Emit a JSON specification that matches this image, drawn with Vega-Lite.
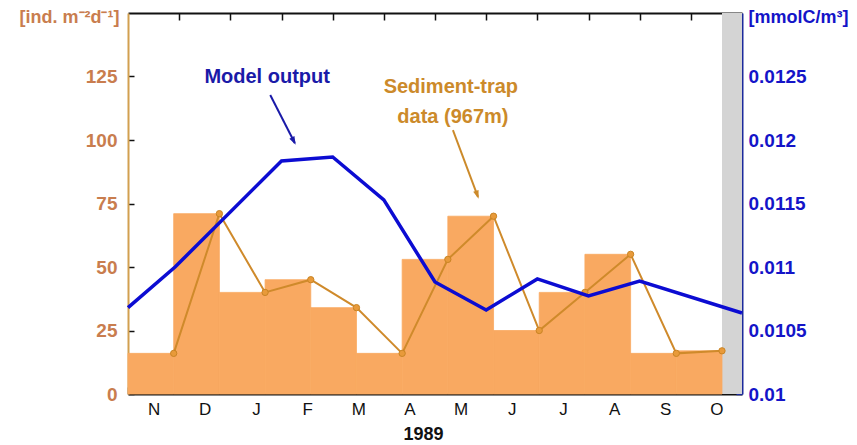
{
  "$schema": "https://vega.github.io/schema/vega-lite/v6.json",
  "width": 614,
  "height": 381,
  "autosize": {"type": "none"},
  "padding": {"left": 128, "top": 13, "right": 115, "bottom": 51},
  "background": "white",
  "config": {
    "view": {"stroke": null},
    "axis": {"grid": false, "zindex": 1, "labelFont": "Liberation Sans", "titleFont": "Liberation Sans"},
    "text": {"font": "Liberation Sans"}
  },
  "datasets": {
    "traps": [
      {"start": 0, "end": 0.893, "flux": 16},
      {"start": 0.893, "end": 1.786, "flux": 71},
      {"start": 1.786, "end": 2.679, "flux": 40},
      {"start": 2.679, "end": 3.572, "flux": 45},
      {"start": 3.572, "end": 4.465, "flux": 34},
      {"start": 4.465, "end": 5.358, "flux": 16},
      {"start": 5.358, "end": 6.251, "flux": 53},
      {"start": 6.251, "end": 7.144, "flux": 70},
      {"start": 7.144, "end": 8.037, "flux": 25},
      {"start": 8.037, "end": 8.93, "flux": 40},
      {"start": 8.93, "end": 9.823, "flux": 55},
      {"start": 9.823, "end": 10.716, "flux": 16},
      {"start": 10.716, "end": 11.609, "flux": 17}
    ],
    "model": [
      {"month": 0, "c": 0.01068},
      {"month": 0.92, "c": 0.0110},
      {"month": 3, "c": 0.011835},
      {"month": 4, "c": 0.011866},
      {"month": 5, "c": 0.011528},
      {"month": 6, "c": 0.010882},
      {"month": 7, "c": 0.010661},
      {"month": 8, "c": 0.010906},
      {"month": 9, "c": 0.010772},
      {"month": 10, "c": 0.01089},
      {"month": 12, "c": 0.010638}
    ],
    "band": [{"from": 11.609, "to": 12}],
    "notes": [
      {"label": "Model output", "m": 2.72, "f": 124.8, "who": "model"},
      {"label": "Sediment-trap", "m": 6.31, "f": 120.9, "who": "trap"},
      {"label": "data (967m)", "m": 6.35, "f": 109.1, "who": "trap"}
    ],
    "arrows": [
      {"who": "model", "m": 2.78, "f": 117.7, "m2": 3.26, "f2": 98.8},
      {"who": "trap", "m": 6.35, "f": 103.9, "m2": 6.84, "f2": 77.6}
    ]
  },
  "layer": [
    {
      "layer": [
        {
          "data": {"name": "band"},
          "mark": {"type": "rect", "color": "#d4d4d4"},
          "encoding": {
            "x": {"field": "from", "type": "quantitative"},
            "x2": {"field": "to"},
            "y": {"datum": 0, "type": "quantitative"},
            "y2": {"datum": 150}
          }
        },
        {
          "data": {"name": "traps"},
          "mark": {"type": "rect", "color": "#f9a961", "stroke": "#f9a961", "strokeWidth": 0.8},
          "encoding": {
            "x": {
              "field": "start", "type": "quantitative",
              "scale": {"domain": [0, 12], "nice": false, "zero": false},
              "axis": {
                "orient": "bottom",
                "values": [0.5, 1.5, 2.5, 3.5, 4.5, 5.5, 6.5, 7.5, 8.5, 9.5, 10.5, 11.5],
                "labelExpr": "['N','D','J','F','M','A','M','J','J','A','S','O'][floor(datum.value)]",
                "tickOffset": -25.583,
                "labelOffset": 25.583,
                "tickSize": -7,
                "tickColor": "#111111",
                "tickWidth": 1.5,
                "labelPadding": 14,
                "labelFontSize": 17,
                "labelColor": "#111111",
                "labelFlush": false,
                "labelOverlap": false,
                "domainColor": "#111111",
                "domainWidth": 2,
                "title": "1989",
                "titleFontSize": 18,
                "titleFontWeight": "bold",
                "titleColor": "#111111",
                "titleX": 295,
                "titleY": 40,
                "titleBaseline": "middle",
                "titleAlign": "center"
              }
            },
            "x2": {"field": "end"},
            "y": {
              "field": "flux", "type": "quantitative",
              "scale": {"domain": [0, 150], "nice": false},
              "axis": {
                "orient": "left",
                "values": [0, 25, 50, 75, 100, 125],
                "tickSize": -6,
                "tickColor": "#111111",
                "tickWidth": 1.5,
                "labelPadding": 17,
                "labelFontSize": 19,
                "labelFontWeight": "bold",
                "labelColor": "#c97d4e",
                "labelFlush": false,
                "labelOverlap": false,
                "domainColor": "#d2a050",
                "domainWidth": 2,
                "title": "[ind. m⁻²d⁻¹]",
                "titleAngle": 0,
                "titleAlign": "right",
                "titleBaseline": "middle",
                "titleX": -9,
                "titleY": 4,
                "titleFontSize": 18,
                "titleFontWeight": "bold",
                "titleColor": "#c97d4e"
              }
            },
            "y2": {"datum": 0}
          }
        },
        {
          "data": {"name": "traps"},
          "mark": {"type": "line", "color": "#cf8a2b", "strokeWidth": 2},
          "encoding": {
            "x": {"field": "end", "type": "quantitative"},
            "y": {"field": "flux", "type": "quantitative"}
          }
        },
        {
          "data": {"name": "traps"},
          "mark": {"type": "point", "filled": true, "fill": "#e89a3a", "stroke": "#c98424", "strokeWidth": 1, "size": 40, "opacity": 1},
          "encoding": {
            "x": {"field": "end", "type": "quantitative"},
            "y": {"field": "flux", "type": "quantitative"}
          }
        },
        {
          "data": {"name": "arrows"},
          "mark": {"type": "rule", "strokeWidth": 2},
          "encoding": {
            "x": {"field": "m", "type": "quantitative"},
            "y": {"field": "f", "type": "quantitative"},
            "x2": {"field": "m2"},
            "y2": {"field": "f2"},
            "color": {"field": "who", "type": "nominal", "scale": {"domain": ["model", "trap"], "range": ["#1a1aa8", "#cc8a2a"]}, "legend": null}
          }
        },
        {
          "data": {"name": "arrows"},
          "transform": [{"filter": "datum.who === 'model'"}],
          "mark": {"type": "point", "shape": "M0,0.3 L-0.45,-1 L0.45,-1 Z", "filled": true, "color": "#1a1aa8", "size": 160, "angle": 332.5, "opacity": 1},
          "encoding": {
            "x": {"field": "m2", "type": "quantitative"},
            "y": {"field": "f2", "type": "quantitative"}
          }
        },
        {
          "data": {"name": "arrows"},
          "transform": [{"filter": "datum.who === 'trap'"}],
          "mark": {"type": "point", "shape": "M0,0.3 L-0.45,-1 L0.45,-1 Z", "filled": true, "color": "#cc8a2a", "size": 160, "angle": 340.8, "opacity": 1},
          "encoding": {
            "x": {"field": "m2", "type": "quantitative"},
            "y": {"field": "f2", "type": "quantitative"}
          }
        },
        {
          "data": {"name": "notes"},
          "mark": {"type": "text", "fontSize": 20, "fontWeight": "bold", "align": "center", "baseline": "middle"},
          "encoding": {
            "x": {"field": "m", "type": "quantitative"},
            "y": {"field": "f", "type": "quantitative"},
            "text": {"field": "label"},
            "color": {"field": "who", "type": "nominal", "scale": {"domain": ["model", "trap"], "range": ["#1212c8", "#dc8f2c"]}, "legend": null}
          }
        }
      ]
    },
    {
      "data": {"name": "model"},
      "mark": {"type": "line", "color": "#0c0cd2", "strokeWidth": 3.5},
      "encoding": {
        "x": {
          "field": "month", "type": "quantitative",
          "axis": {
            "orient": "top",
            "values": [1, 2, 3, 4, 5, 6, 7, 8, 9, 10, 11],
            "labels": false,
            "tickSize": -7,
            "tickColor": "#111111",
            "tickWidth": 1.5,
            "domainColor": "#111111",
            "domainWidth": 2,
            "title": null
          }
        },
        "y": {
          "field": "c", "type": "quantitative",
          "scale": {"domain": [0.01, 0.013], "nice": false, "zero": false},
          "axis": {
            "orient": "right",
            "values": [0.01, 0.0105, 0.011, 0.0115, 0.012, 0.0125],
            "format": "~g",
            "tickSize": -6,
            "tickColor": "#1c2a9c",
            "tickWidth": 1.5,
            "labelPadding": 12,
            "labelFontSize": 19,
            "labelFontWeight": "bold",
            "labelColor": "#1414c8",
            "labelFlush": false,
            "labelOverlap": false,
            "domainColor": "#1c2a9c",
            "domainWidth": 2,
            "title": "[mmolC/m³]",
            "titleAngle": 0,
            "titleAlign": "left",
            "titleBaseline": "middle",
            "titleX": 6,
            "titleY": 4,
            "titleFontSize": 18,
            "titleFontWeight": "bold",
            "titleColor": "#1414c8"
          }
        }
      }
    }
  ],
  "resolve": {"scale": {"y": "independent"}, "axis": {"x": "independent"}}
}
